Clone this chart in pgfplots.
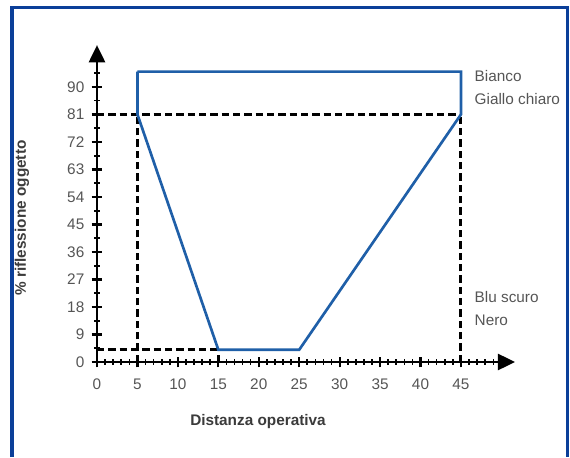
\documentclass[border=0pt]{standalone}
\usepackage{pgfplots}
\pgfplotsset{compat=1.18}
\usepackage{fontspec}
\setmainfont{Liberation Sans}
\usetikzlibrary{arrows.meta}
\definecolor{lineblue}{HTML}{1F5FA8}
\definecolor{frameblue}{HTML}{0B3F99}
\definecolor{txtgray}{HTML}{555555}
\begin{document}
\begin{tikzpicture}
\useasboundingbox (0,0) rectangle (427.5pt,342.75pt);
\draw[frameblue, line width=2.3pt] (9pt,0) -- (9pt,337.1pt) -- (425.6pt,337.1pt) -- (425.6pt,0);
\begin{axis}[
  at={(72.75pt,71.25pt)}, anchor=south west,
  scale only axis, width=313.6pt, height=237.7pt,
  xmin=0, xmax=51.7, ymin=0, ymax=103.7,
  axis lines=left,
  axis line style={line width=2.2pt, -{Triangle[length=13pt,width=12pt]}},
  xtick={0,5,...,45}, ytick={0,9,...,90},
  minor xtick={1,2,...,50}, minor ytick={4.5,13.5,...,94.5},
  tick align=center,
  major tick length=8pt, minor tick length=4pt,
  major tick style={line width=1.6pt, black},
  minor tick style={line width=1.2pt, black},
  /pgf/number format/assume math mode=true,
  ticklabel style={font=\fontsize{11.5}{13}\selectfont, text=txtgray},
  xticklabel style={yshift=-5pt},
  yticklabel style={xshift=-2pt},
  clip=false,
]
\addplot[black, line width=2.2pt, dash pattern=on 5.5pt off 3pt] coordinates {(0,81) (45,81)};
\addplot[black, line width=2.2pt, dash pattern=on 5.5pt off 3pt] coordinates {(5,0) (5,81)};
\addplot[black, line width=2.2pt, dash pattern=on 5.5pt off 3pt] coordinates {(45,0) (45,81)};
\addplot[black, line width=2.2pt, dash pattern=on 5.5pt off 3pt] coordinates {(0,4) (15,4)};
\addplot[black, line width=2.2pt, dash pattern=on 5.5pt off 3pt] coordinates {(15,0) (15,4)};
\addplot[lineblue, line width=2pt] coordinates {(5,95) (45,95) (45,81) (25,4) (15,4) (5,81) (5,95)};
\end{axis}
\node[font=\fontsize{11.5}{13}\selectfont\bfseries, text=txtgray!70!black] at (193.5pt,26.25pt) {Distanza operativa};
\node[font=\fontsize{11.5}{13}\selectfont\bfseries, text=txtgray!70!black, rotate=90] at (16.5pt,179.25pt) {\% riflessione oggetto};
\node[font=\fontsize{11.5}{13}\selectfont, text=txtgray, anchor=west] at (352.5pt,285.75pt) {Bianco};
\node[font=\fontsize{11.5}{13}\selectfont, text=txtgray, anchor=west] at (352.5pt,268.5pt) {Giallo chiaro};
\node[font=\fontsize{11.5}{13}\selectfont, text=txtgray, anchor=west] at (352.5pt,120pt) {Blu scuro};
\node[font=\fontsize{11.5}{13}\selectfont, text=txtgray, anchor=west] at (352.5pt,102.75pt) {Nero};
\end{tikzpicture}
\end{document}
